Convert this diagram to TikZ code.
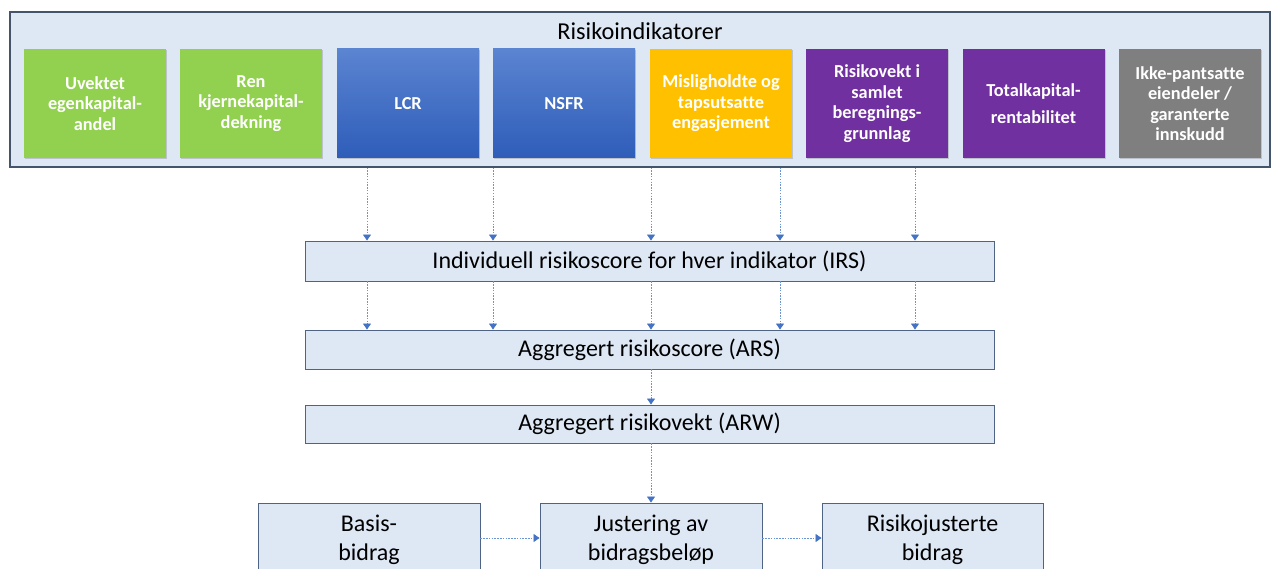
\documentclass[tikz,border=0pt]{standalone}
\usepackage{fontspec}
\setmainfont{Carlito}[Ligatures=NoCommon]
\usetikzlibrary{arrows.meta,shadows,calc}
\definecolor{outerfill}{HTML}{DEE8F5}
\definecolor{outerdraw}{HTML}{44546A}
\definecolor{boxdraw}{HTML}{4F6384}
\definecolor{igreen}{HTML}{92D050}
\definecolor{iblueT}{HTML}{5B84D1}
\definecolor{iblueB}{HTML}{2E5DB9}
\definecolor{iyellow}{HTML}{FFC000}
\definecolor{ipurple}{HTML}{7030A0}
\definecolor{igrey}{HTML}{7F7F7F}
\definecolor{arrowblue}{HTML}{4472C4}
\definecolor{dashblue}{HTML}{6A93D8}
\tikzset{
  ind/.style={minimum width=142pt, minimum height=109pt, inner sep=0pt, align=center,
    text=white, font=\fontsize{18.3}{20.5}\selectfont\bfseries,
    drop shadow={opacity=0.35, shadow xshift=1pt, shadow yshift=-1.5pt}},
  flowbox/.style={draw=boxdraw, line width=0.9pt, fill=outerfill, inner sep=0pt,
    align=center, font=\fontsize{24}{29}\selectfont},
  conn/.style={draw=dashblue, line width=0.7pt, dash pattern=on 1.5pt off 1.3pt,
    -{Triangle[width=8pt,length=6pt,color=arrowblue,fill=arrowblue]}, shorten >=0pt}
}
\begin{document}
\begin{tikzpicture}[x=1pt,y=-1pt]
\useasboundingbox (0,0) rectangle (1271,569);
\clip (0,0) rectangle (1271,569);
\node[draw=outerdraw, line width=1.2pt, fill=outerfill, minimum width=1260pt, minimum height=155pt, inner sep=0pt] (outer) at (640,89.5) {};
\node[font=\fontsize{24.3}{28}\selectfont] (title) at (640,31) {Risikoindikatorer};
\node[ind, fill=igreen] (i1) at (95,103.5) {Uvektet\\egenkapital-\\andel};
\node[ind, fill=igreen] (i2) at (251,103.5) {Ren\\kjernekapital-\\dekning};
\node[ind, top color=iblueT, bottom color=iblueB] (i3) at (408,103.5) {LCR};
\node[ind, top color=iblueT, bottom color=iblueB] (i4) at (564,103.5) {NSFR};
\node[ind, fill=iyellow] (i5) at (721,103.5) {Misligholdte og\\tapsutsatte\\engasjement};
\node[ind, fill=ipurple] (i6) at (877,103.5) {Risikovekt i\\samlet\\beregnings-\\grunnlag};
\node[ind, fill=ipurple] (i7) at (1033.5,103.5) {Totalkapital-\\[6pt]rentabilitet};
\node[ind, fill=igrey] (i8) at (1190,103.5) {Ikke-pantsatte\\eiendeler /\\garanterte\\innskudd};
\node[flowbox, minimum width=689pt, minimum height=40pt] (irs) at (649.5,261) {Individuell risikoscore for hver indikator (IRS)};
\node[flowbox, minimum width=689pt, minimum height=39pt] (ars) at (649.5,349.5) {Aggregert risikoscore (ARS)};
\node[flowbox, minimum width=689pt, minimum height=38pt] (arw) at (649.5,424) {Aggregert risikovekt (ARW)};
\node[flowbox, minimum width=222pt, minimum height=74pt] (basis) at (369,540) {Basis-\\bidrag};
\node[flowbox, minimum width=222pt, minimum height=74pt] (just) at (651,540) {Justering av\\bidragsbeløp};
\node[flowbox, minimum width=221pt, minimum height=74pt] (risk) at (932.5,540) {Risikojusterte\\bidrag};
\foreach \xx in {367,493,651,780,915}{
  \draw[conn] (outer.south -| \xx,0) -- (irs.north -| \xx,0);
  \draw[conn] (irs.south -| \xx,0) -- (ars.north -| \xx,0);
}
\draw[conn] (ars.south -| 651,0) -- (arw.north -| 651,0);
\draw[conn] (arw.south -| 651,0) -- (just.north -| 651,0);
\draw[conn] (basis.east |- 0,538) -- (just.west |- 0,538);
\draw[conn] (just.east |- 0,538) -- (risk.west |- 0,538);
\end{tikzpicture}
\end{document}
